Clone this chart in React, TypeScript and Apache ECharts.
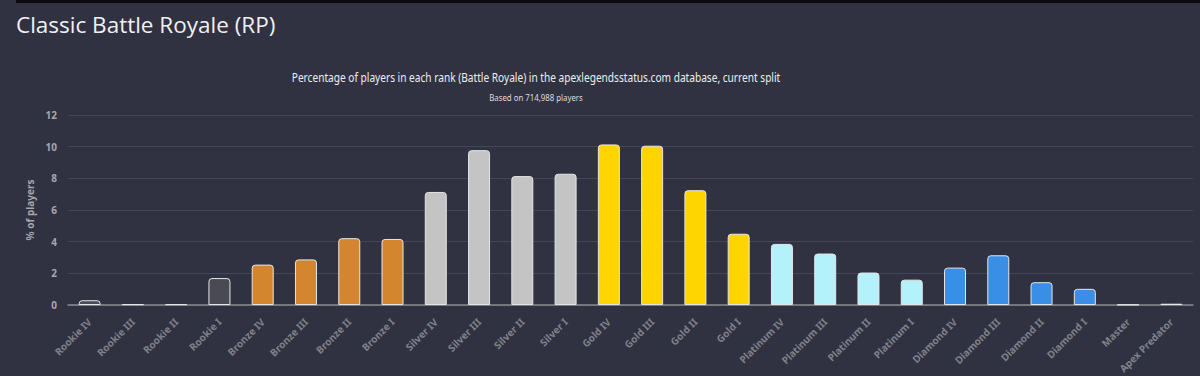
import React, { useEffect, useRef } from "react";
import * as echarts from "echarts";

const ranks = [
  "Rookie IV", "Rookie III", "Rookie II", "Rookie I",
  "Bronze IV", "Bronze III", "Bronze II", "Bronze I",
  "Silver IV", "Silver III", "Silver II", "Silver I",
  "Gold IV", "Gold III", "Gold II", "Gold I",
  "Platinum IV", "Platinum III", "Platinum II", "Platinum I",
  "Diamond IV", "Diamond III", "Diamond II", "Diamond I",
  "Master", "Apex Predator",
];

const percentages = [
  0.3, 0.05, 0.05, 1.7,
  2.55, 2.88, 4.22, 4.17,
  7.14, 9.78, 8.14, 8.29,
  10.14, 10.06, 7.25, 4.5,
  3.86, 3.25, 2.05, 1.6,
  2.36, 3.14, 1.44, 1.02,
  0.02, 0.08,
];

const tierColors = [
  "#4a4a55", "#4a4a55", "#4a4a55", "#4a4a55",
  "#d4862f", "#d4862f", "#d4862f", "#d4862f",
  "#c4c4c4", "#c4c4c4", "#c4c4c4", "#c4c4c4",
  "#ffd500", "#ffd500", "#ffd500", "#ffd500",
  "#b3f2fa", "#b3f2fa", "#b3f2fa", "#b3f2fa",
  "#398ee6", "#398ee6", "#398ee6", "#398ee6",
  "#b98cf0", "#e8a2b6",
];

const yTicks = { min: 0, max: 12, interval: 2 };

const titleText = "Classic Battle Royale (RP)";
const chartTitle =
  "Percentage of players in each rank (Battle Royale) in the apexlegendsstatus.com database, current split";
const chartSubtitle = "Based on 714,988 players";
const yAxisName = "% of players";

export default function App() {
  const ref = useRef<HTMLDivElement>(null);

  useEffect(() => {
    if (!ref.current) return;
    const chart = echarts.init(ref.current, undefined, { renderer: "svg" });
    const sans = "'Noto Sans', sans-serif";
    chart.setOption({
      animation: false,
      backgroundColor: "#303242",
      graphic: [
        {
          type: "rect",
          shape: { x: 16, y: 0, width: 1184, height: 3 },
          style: { fill: "#0b0b10" },
          silent: true,
        },
        {
          type: "text",
          x: 16,
          y: 24,
          style: {
            text: titleText,
            fill: "#f0f0f2",
            font: "400 22.5px 'Open Sans', sans-serif",
            textAlign: "left",
            textVerticalAlign: "middle",
          },
        },
        {
          type: "text",
          x: 536,
          y: 77,
          scaleX: 0.78,
          style: {
            text: chartTitle,
            fill: "#eeeeee",
            font: "13px " + sans,
            textAlign: "center",
            textVerticalAlign: "middle",
          },
        },
        {
          type: "text",
          x: 536,
          y: 97,
          scaleX: 0.87,
          style: {
            text: chartSubtitle,
            fill: "#dddddd",
            font: "9px " + sans,
            textAlign: "center",
            textVerticalAlign: "middle",
          },
        },
      ],
      grid: { left: 68, right: 7, top: 115, bottom: 69, containLabel: false },
      xAxis: {
        type: "category",
        data: ranks,
        axisLine: { lineStyle: { color: "#8a8b92", width: 1.5 } },
        axisTick: { show: false },
        axisLabel: {
          interval: 0,
          rotate: 45,
          fontSize: 10,
          fontWeight: "bold",
          color: "#80818a",
          margin: 15,
          fontFamily: sans,
        },
      },
      yAxis: {
        type: "value",
        min: yTicks.min,
        max: yTicks.max,
        interval: yTicks.interval,
        name: yAxisName,
        nameLocation: "middle",
        nameRotate: 90,
        nameGap: 31,
        nameTextStyle: {
          fontSize: 10,
          fontWeight: "bold",
          color: "#a6a7ae",
          fontFamily: sans,
        },
        axisLine: { show: false },
        axisTick: { show: false },
        axisLabel: {
          fontSize: 10,
          fontWeight: "bold",
          color: "#a6a7ae",
          margin: 11,
          fontFamily: sans,
        },
        splitLine: { lineStyle: { color: "#43455a", width: 1 } },
      },
      series: [
        {
          type: "bar",
          barWidth: 22,
          data: percentages.map((v, i) => ({
            value: v,
            itemStyle: {
              color: tierColors[i],
              borderColor: "#e6e6e6",
              borderWidth: 1,
              borderRadius: [3, 3, 0, 0],
            },
          })),
        },
      ],
    });
    return () => chart.dispose();
  }, []);

  return (
    <div
      ref={ref}
      style={{ position: "fixed", left: 0, top: 0, width: 1200, height: 376 }}
    />
  );
}
